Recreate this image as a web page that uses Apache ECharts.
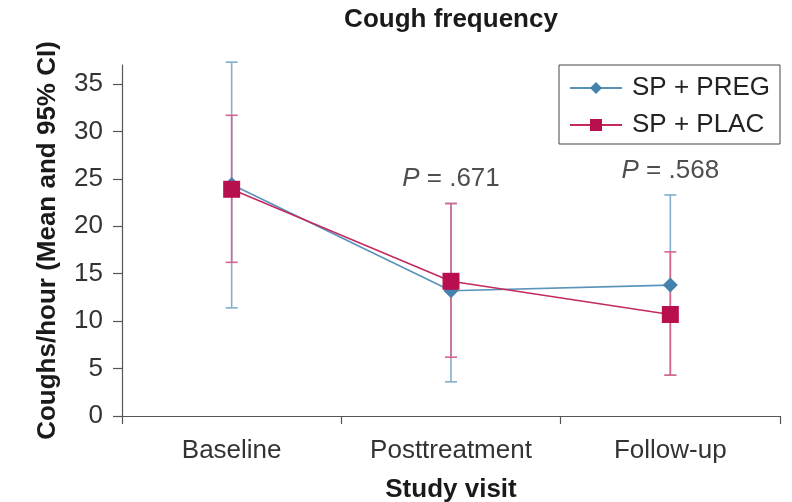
<!DOCTYPE html>
<html>
<head>
<meta charset="utf-8">
<script src="https://cdn.jsdelivr.net/npm/echarts@6/dist/echarts.min.js"></script>
<style>html,body{margin:0;padding:0;background:#fff}#c{width:792px;height:502px}</style>
</head>
<body>
<div id="c"></div>
<script>
var categories = ['Baseline', 'Posttreatment', 'Follow-up'];
var seriesNames = ['SP + PREG', 'SP + PLAC'];
var pregMean = [24.4, 13.2, 13.8];
var pregLow = [11.4, 3.6, 4.3];
var pregHigh = [37.3, 22.4, 23.3];
var placMean = [23.9, 14.2, 10.7];
var placLow = [16.2, 6.2, 4.3];
var placHigh = [31.7, 22.4, 17.3];
var pValues = ['', '.671', '.568'];
var pLabelY = [null, 25.0, 25.8];
var yTicks = [0, 5, 10, 15, 20, 25, 30, 35];

var FONT = '"Liberation Sans", Arial, Helvetica, sans-serif';
var FS = 26;
var BLUE = '#4581ad', BLUE_LINE = '#5a93ba', BLUE_ERR = '#82afcc';
var RED = '#b8104f', RED_LINE = '#c22a60', RED_ERR = '#d66690';

function errData(lo, hi) {
  return categories.map(function (c, i) { return [i, lo[i], hi[i]]; });
}
function errRender(color) {
  return function (params, api) {
    var x = api.value(0);
    var lo = api.coord([x, api.value(1)]);
    var hi = api.coord([x, api.value(2)]);
    var cw = 6;
    var st = { stroke: color, lineWidth: 1.6 };
    return {
      type: 'group',
      children: [
        { type: 'line', shape: { x1: lo[0], y1: lo[1], x2: hi[0], y2: hi[1] }, style: st },
        { type: 'line', shape: { x1: lo[0] - cw, y1: lo[1], x2: lo[0] + cw, y2: lo[1] }, style: st },
        { type: 'line', shape: { x1: hi[0] - cw, y1: hi[1], x2: hi[0] + cw, y2: hi[1] }, style: st }
      ]
    };
  };
}

var pData = [];
categories.forEach(function (c, i) {
  if (pLabelY[i] != null) {
    pData.push({ value: [i, pLabelY[i]], label: { formatter: '{i|P} = ' + pValues[i] } });
  }
});

var chart = echarts.init(document.getElementById('c'), null, { renderer: 'canvas' });
chart.setOption({
  animation: false,
  backgroundColor: '#fff',
  textStyle: { fontFamily: FONT },
  title: {
    text: 'Cough frequency', left: 446, textAlign: 'center', top: 2,
    textStyle: { fontFamily: FONT, fontSize: FS, fontWeight: 'bold', color: '#1a1a1a' }
  },
  legend: {
    orient: 'vertical', left: 559, top: 65,
    data: seriesNames,
    borderColor: '#444', borderWidth: 1, borderRadius: 0,
    padding: [10, 10, 6, 10],
    itemWidth: 52, itemHeight: 15, itemGap: 11,
    textStyle: { fontFamily: FONT, fontSize: FS, color: '#222', padding: [0, 0, 0, 5] }
  },
  grid: { left: 122, right: 12, top: 65, bottom: 86, containLabel: false, outerBoundsMode: 'none' },
  xAxis: {
    type: 'category', data: categories, boundaryGap: true,
    name: 'Study visit', nameLocation: 'middle', nameGap: 61,
    nameTextStyle: { fontFamily: FONT, fontSize: FS, fontWeight: 'bold', color: '#1a1a1a' },
    axisLine: { lineStyle: { color: '#555', width: 1.2 } },
    axisTick: { show: true, length: 8, alignWithLabel: false, lineStyle: { color: '#555', width: 1.2 } },
    axisLabel: { fontFamily: FONT, fontSize: FS, color: '#333', margin: 22 },
    splitLine: { show: false }
  },
  yAxis: {
    type: 'value', min: 0, max: 37, interval: 5,
    name: 'Coughs/hour (Mean and 95% CI)', nameLocation: 'middle', nameGap: 61,
    nameTextStyle: { fontFamily: FONT, fontSize: FS, fontWeight: 'bold', color: '#1a1a1a' },
    axisLine: { show: true, lineStyle: { color: '#555', width: 1.2 } },
    axisTick: { show: true, length: 9, customValues: yTicks, lineStyle: { color: '#555', width: 1.2 } },
    axisLabel: { fontFamily: FONT, fontSize: FS, color: '#333', margin: 19, customValues: yTicks },
    splitLine: { show: false }
  },
  series: [
    {
      type: 'custom', name: 'preg-err', z: 1, silent: true,
      renderItem: errRender(BLUE_ERR), data: errData(pregLow, pregHigh),
      encode: { x: 0, y: [1, 2] }
    },
    {
      type: 'custom', name: 'plac-err', z: 2, silent: true,
      renderItem: errRender(RED_ERR), data: errData(placLow, placHigh),
      encode: { x: 0, y: [1, 2] }
    },
    {
      type: 'line', name: seriesNames[0], data: pregMean, z: 3,
      symbol: 'diamond', symbolSize: [15, 15],
      itemStyle: { color: BLUE },
      lineStyle: { color: BLUE_LINE, width: 1.6 }
    },
    {
      type: 'line', name: seriesNames[1], data: placMean, z: 4,
      symbol: 'rect', symbolSize: 17,
      itemStyle: { color: RED },
      lineStyle: { color: RED_LINE, width: 1.6 }
    },
    {
      type: 'scatter', name: 'pvals', z: 5, silent: true, symbolSize: 0,
      data: pData,
      label: {
        show: true, position: 'inside', fontFamily: FONT, fontSize: FS, color: '#222',
        rich: { i: { fontFamily: FONT, fontSize: FS, fontStyle: 'italic', color: '#222' } }
      }
    }
  ]
});
</script>
</body>
</html>
